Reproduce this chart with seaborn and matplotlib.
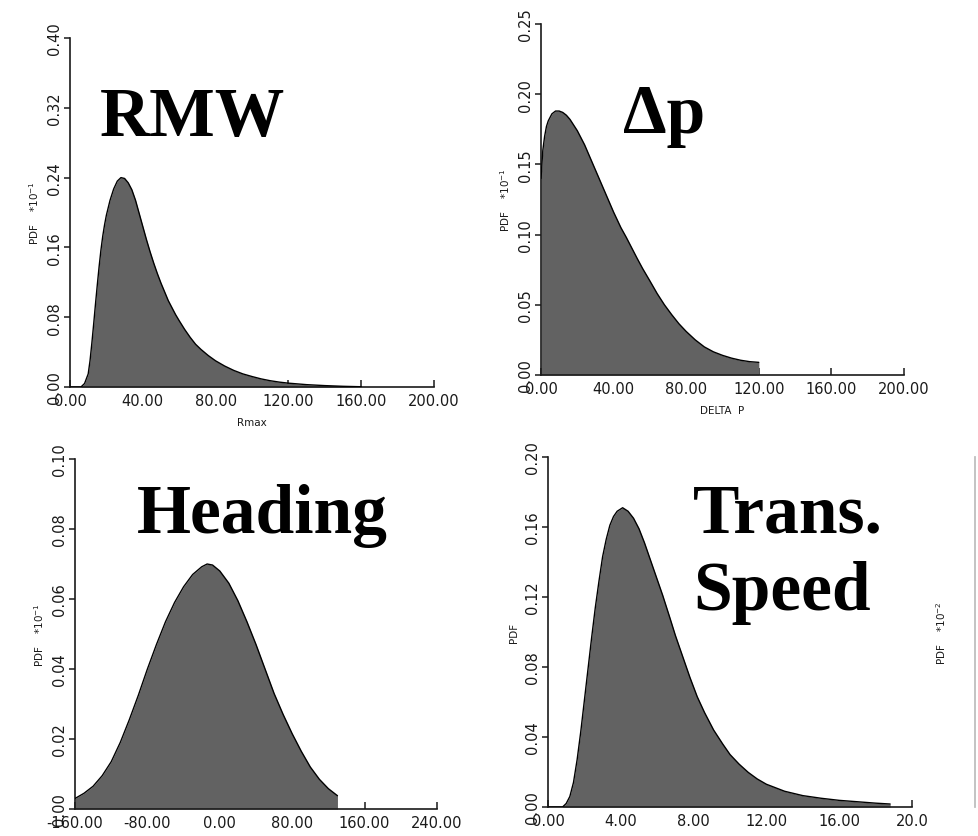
import numpy as np
import pandas as pd
import matplotlib
matplotlib.use("Agg")
import matplotlib.pyplot as plt
from matplotlib.ticker import FixedLocator, FixedFormatter
import seaborn as sns

# ---- data: probability density curves (PDF values as plotted on each y-scale) ----
rmw_x = [0, 6, 8, 10, 11, 12, 13, 14, 15, 16, 17, 18, 19, 20, 22, 24, 26, 28, 30,
         32, 34, 36, 38, 40, 42, 44, 46, 48, 50, 52, 54, 56, 58, 60, 63, 66, 69, 72,
         76, 80, 85, 90, 95, 100, 105, 110, 115, 120, 130, 140, 150, 160]
rmw_y = [0.0, 0.0, 0.004, 0.015, 0.03, 0.05, 0.072, 0.095, 0.117, 0.138, 0.157,
         0.173, 0.186, 0.197, 0.214, 0.227, 0.236, 0.240, 0.239, 0.234, 0.226,
         0.214, 0.199, 0.184, 0.169, 0.155, 0.142, 0.130, 0.119, 0.109, 0.099,
         0.091, 0.083, 0.076, 0.066, 0.057, 0.049, 0.043, 0.036, 0.030, 0.024,
         0.019, 0.015, 0.012, 0.0093, 0.0072, 0.0056, 0.0044, 0.0027, 0.0016,
         0.0008, 0.0003]

dp_x = [0, 1, 2, 3, 4, 6, 8, 10, 12, 14, 16, 18, 20, 22, 24, 26, 28, 30, 32, 34, 36,
        38, 40, 42, 44, 47, 50, 53, 56, 60, 64, 68, 72, 76, 80, 85, 90, 95, 100, 105,
        110, 115, 120]
dp_y = [0.14, 0.16, 0.17, 0.177, 0.181, 0.186, 0.188, 0.188, 0.187, 0.185, 0.182,
        0.178, 0.174, 0.169, 0.164, 0.158, 0.152, 0.146, 0.140, 0.134, 0.128, 0.122,
        0.116, 0.1105, 0.105, 0.098, 0.0905, 0.083, 0.0758, 0.067, 0.058, 0.050,
        0.043, 0.0365, 0.031, 0.025, 0.020, 0.0165, 0.014, 0.012, 0.0105, 0.0095,
        0.009]

hd_x = [-160, -150, -140, -130, -120, -110, -100, -90, -80, -70, -60, -50, -40, -30,
        -20, -14, -8, 0, 10, 20, 30, 40, 50, 60, 70, 80, 90, 100, 110, 120, 130]
hd_y = [0.003, 0.0045, 0.0065, 0.0095, 0.0135, 0.019, 0.0255, 0.0325, 0.040, 0.047,
        0.0535, 0.059, 0.0635, 0.067, 0.0692, 0.070, 0.0697, 0.068, 0.0645, 0.0595,
        0.0535, 0.047, 0.040, 0.033, 0.027, 0.0215, 0.0165, 0.012, 0.0085, 0.0058,
        0.0038]

ts_x = [0, 0.8, 1.0, 1.2, 1.4, 1.6, 1.8, 2.0, 2.2, 2.4, 2.6, 2.8, 3.0, 3.2, 3.4, 3.6,
        3.8, 4.1, 4.4, 4.7, 5.0, 5.3, 5.6, 6.0, 6.3, 6.7, 7.0, 7.4, 7.8, 8.2, 8.6,
        9.1, 9.6, 10.0, 10.5, 11.0, 11.5, 12, 13, 14, 15, 16, 17, 18, 18.8]
ts_y = [0.0, 0.0, 0.002, 0.006, 0.014, 0.027, 0.043, 0.061, 0.079, 0.097, 0.114,
        0.129, 0.143, 0.153, 0.161, 0.166, 0.169, 0.171, 0.169, 0.165, 0.159, 0.151,
        0.142, 0.130, 0.121, 0.108, 0.098, 0.086, 0.074, 0.063, 0.054, 0.044, 0.036,
        0.030, 0.0245, 0.0198, 0.016, 0.013, 0.009, 0.0065, 0.005, 0.0038, 0.003,
        0.0022, 0.0017]

xlabels = ["Rmax", "DELTA  P", "", ""]
ylabels = ["PDF    *10$^{-1}$", "PDF    *10$^{-1}$", "PDF    *10$^{-1}$", "PDF"]

rmw_xticks = [0, 40, 80, 120, 160, 200]
rmw_yticks = [0.0, 0.08, 0.16, 0.24, 0.32, 0.40]
dp_xticks = [0, 40, 80, 120, 160, 200]
dp_yticks = [0.0, 0.05, 0.10, 0.15, 0.20, 0.25]
hd_xticks = [-160, -80, 0, 80, 160, 240]
hd_yticks = [0.0, 0.02, 0.04, 0.06, 0.08, 0.10]
ts_xticks = [0, 4, 8, 12, 16, 20]
ts_yticks = [0.0, 0.04, 0.08, 0.12, 0.16, 0.20]

ts_xticklabels = ["0.00", "4.00", "8.00", "12.00", "16.00", "20.0"]

# big serif captions: (text, x, baseline y) in axes fraction, one list per panel
captions = [
    [("RMW", 0.082, 0.722)],
    [("\u0394p", 0.226, 0.692)],
    [("Heading", 0.171, 0.791)],
    [("Trans.", 0.398, 0.786), ("Speed", 0.398, 0.566)],
]

sns.set_theme(style="white")
plt.rcParams["font.family"] = ["DejaVu Sans"]

fig = plt.figure(figsize=(9.79, 8.37), dpi=100)
W, H = 979.0, 837.0


def place(l, r, t, b):
    return fig.add_axes([l / W, 1 - b / H, (r - l) / W, (b - t) / H])


axes = [
    place(70, 434, 39, 388),
    place(541, 904, 25, 376),
    place(75, 437, 460, 810),
    place(548, 912, 458, 808),
]

panels = [
    (rmw_x, rmw_y, rmw_xticks, rmw_yticks, None),
    (dp_x, dp_y, dp_xticks, dp_yticks, None),
    (hd_x, hd_y, hd_xticks, hd_yticks, None),
    (ts_x, ts_y, ts_xticks, ts_yticks, ts_xticklabels),
]

fill_color = "#626262"
ink = "#1a1a1a"

for i, (ax, (xs, ys, xt, yt, xtl)) in enumerate(zip(axes, panels)):
    df = pd.DataFrame({"x": xs, "y": ys})
    ax.fill_between(df["x"], 0, df["y"], color=fill_color, linewidth=0, zorder=2)
    sns.lineplot(data=df, x="x", y="y", ax=ax, color="black", linewidth=1.0,
                 zorder=3, estimator=None, sort=False)
    ax.set_xlim(xt[0], xt[-1])
    ax.set_ylim(yt[0], yt[-1])
    ax.xaxis.set_major_locator(FixedLocator(xt))
    ax.yaxis.set_major_locator(FixedLocator(yt))
    if xtl is None:
        xtl = ["%.2f" % v for v in xt]
    ax.xaxis.set_major_formatter(FixedFormatter(xtl))
    ax.yaxis.set_major_formatter(FixedFormatter(["%.2f" % v for v in yt]))
    for s in ("top", "right"):
        ax.spines[s].set_visible(False)
    for s in ("left", "bottom"):
        ax.spines[s].set_color(ink)
        ax.spines[s].set_linewidth(1.2)
    ax.tick_params(axis="x", direction="in", length=5, width=1.1, color=ink,
                   labelsize=10.5, pad=4, bottom=True, labelcolor=ink)
    ax.tick_params(axis="y", direction="out", length=4, width=1.1, color=ink,
                   labelsize=10.5, pad=2, left=True, labelcolor=ink,
                   labelrotation=90)
    for lab in ax.get_yticklabels():
        lab.set_verticalalignment("center")
    ax.set_xlabel(xlabels[i], fontsize=7.5, labelpad=7, color=ink)
    ax.set_ylabel(ylabels[i], fontsize=7.5, labelpad=4, color=ink)
    ax.set_facecolor("white")
    for text, cx, cy in captions[i]:
        ax.text(cx, cy, text, transform=ax.transAxes, ha="left", va="baseline",
                fontsize=50, fontweight="bold", family="Liberation Serif",
                color="black", zorder=5)

# Neighbouring panel, only its left edge fits in the frame
edge = place(975, 1010, 458, 808)
edge.set_xticks([])
edge.set_ylim(0, 1)
edge.yaxis.set_major_locator(FixedLocator([0.2, 0.4, 0.6, 0.8, 1.0]))
edge.yaxis.set_major_formatter(FixedFormatter(["", "", "", "", ""]))
for s in ("top", "right", "bottom"):
    edge.spines[s].set_visible(False)
edge.spines["left"].set_color("#bbbbbb")
edge.tick_params(axis="y", direction="out", length=3, color="#bbbbbb")
edge.set_ylabel("PDF    *10$^{-2}$", fontsize=7.5, labelpad=13, color=ink)

fig.savefig("out.png", dpi=100, facecolor="white")
